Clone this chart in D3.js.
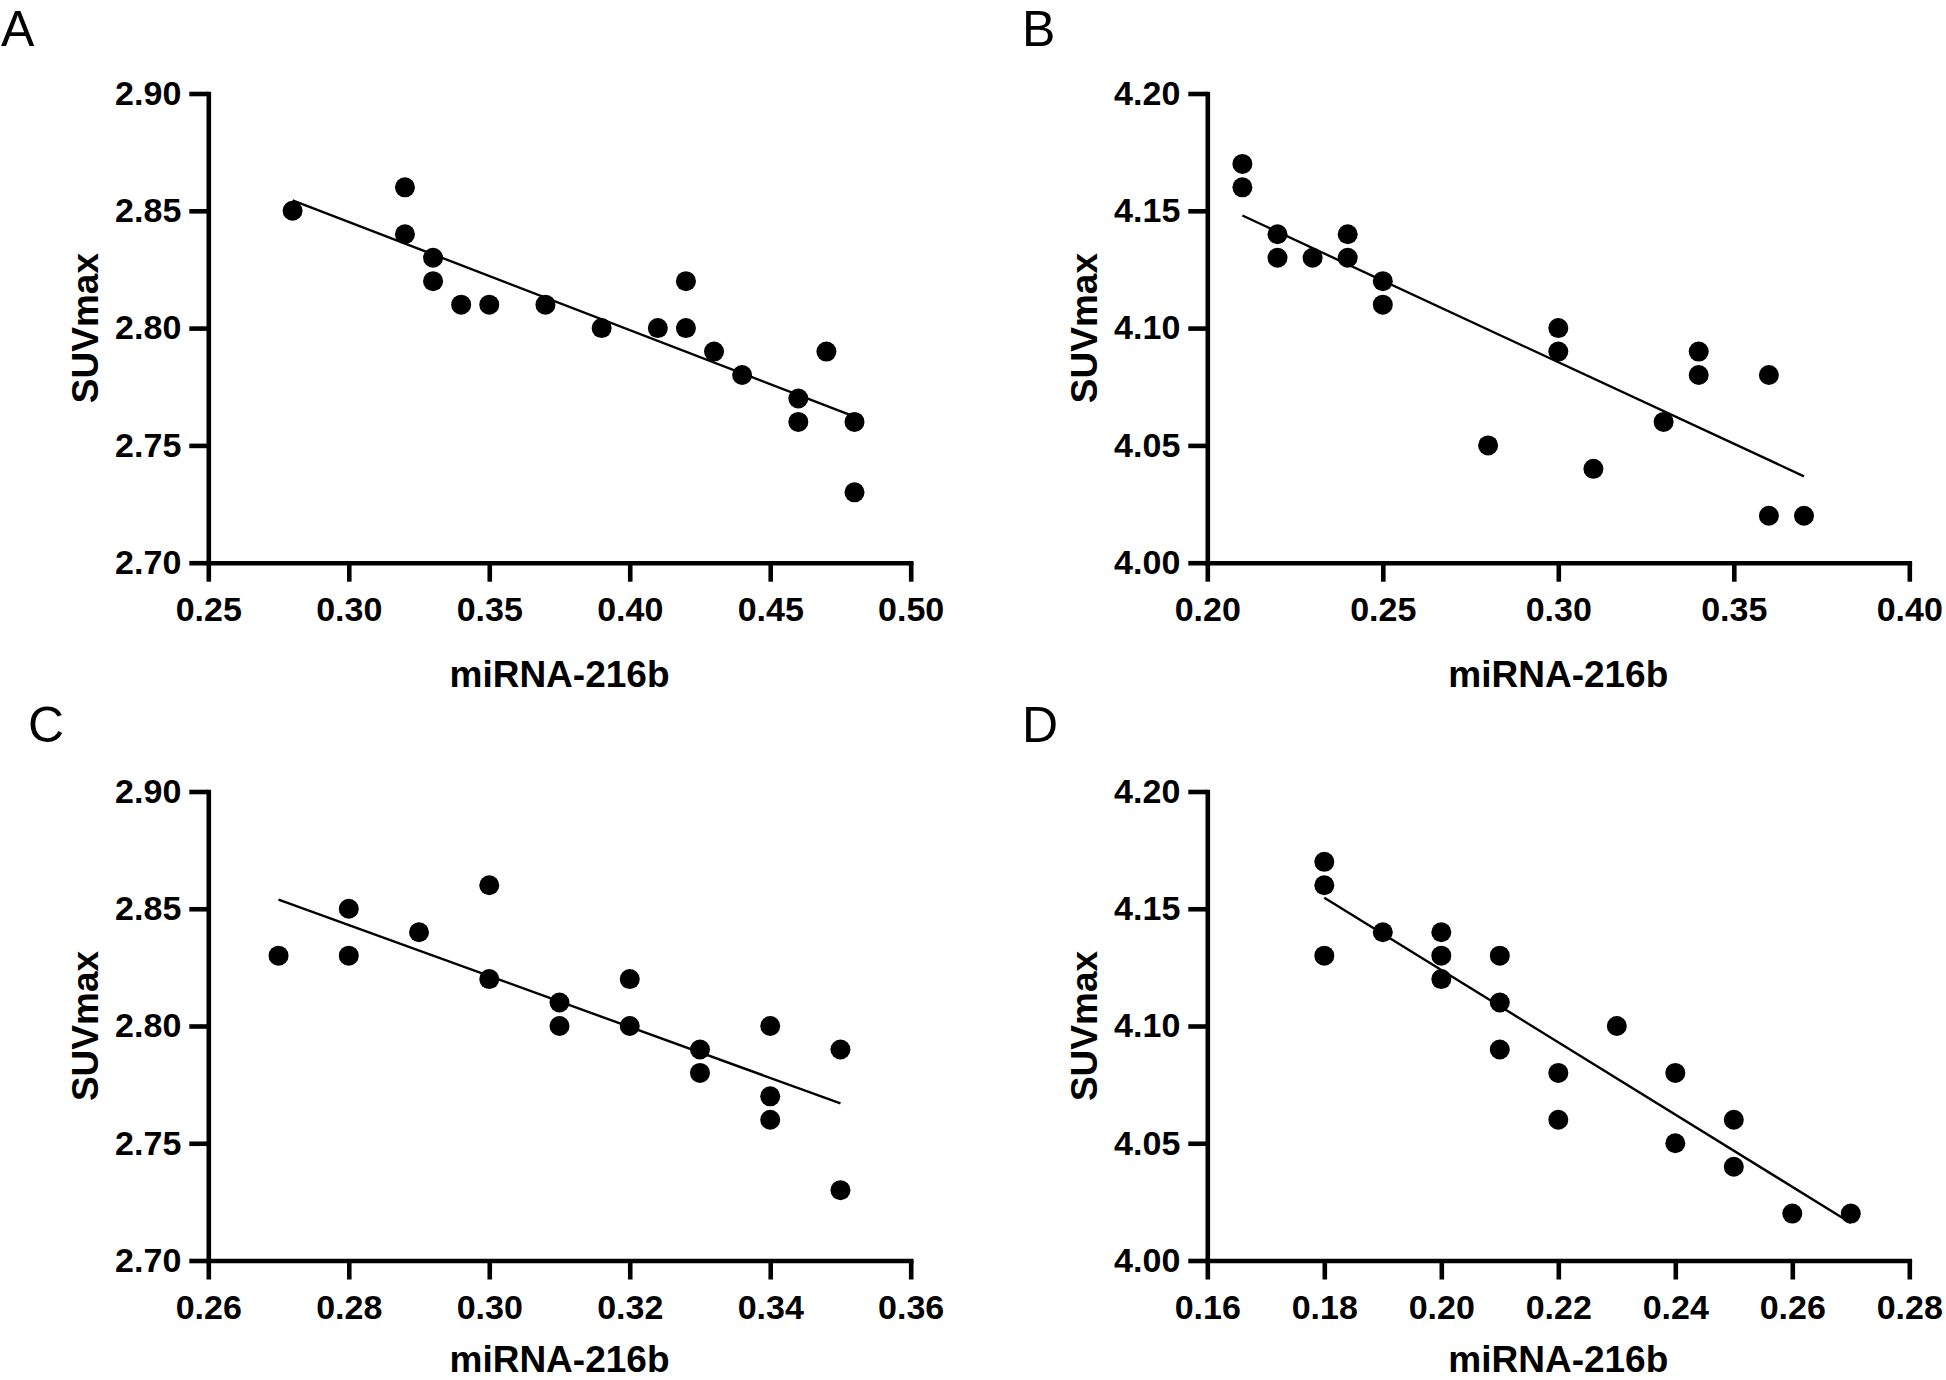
<!DOCTYPE html>
<html><head><meta charset="utf-8">
<script src="https://cdn.jsdelivr.net/npm/d3@7"></script>
<style>html,body{margin:0;padding:0;background:#fff;} svg{display:block;}</style>
</head><body>
<script>
// ---------- data ----------
const panelLabels = ["A", "B", "C", "D"];
const xTitle = "miRNA-216b";
const yTitle = "SUVmax";

const aX = [0.28, 0.32, 0.32, 0.33, 0.33, 0.34, 0.35, 0.37, 0.39, 0.41, 0.42, 0.42, 0.43, 0.44, 0.46, 0.46, 0.47, 0.48, 0.48];
const aY = [2.85, 2.86, 2.84, 2.83, 2.82, 2.81, 2.81, 2.81, 2.80, 2.80, 2.82, 2.80, 2.79, 2.78, 2.77, 2.76, 2.79, 2.76, 2.73];

const bX = [0.21, 0.21, 0.22, 0.22, 0.23, 0.24, 0.24, 0.25, 0.25, 0.28, 0.30, 0.30, 0.31, 0.33, 0.34, 0.34, 0.36, 0.36, 0.37];
const bY = [4.17, 4.16, 4.14, 4.13, 4.13, 4.14, 4.13, 4.12, 4.11, 4.05, 4.10, 4.09, 4.04, 4.06, 4.09, 4.08, 4.08, 4.02, 4.02];

const cX = [0.27, 0.28, 0.28, 0.29, 0.30, 0.30, 0.31, 0.31, 0.32, 0.32, 0.33, 0.33, 0.34, 0.34, 0.34, 0.35, 0.35];
const cY = [2.83, 2.85, 2.83, 2.84, 2.86, 2.82, 2.81, 2.80, 2.82, 2.80, 2.79, 2.78, 2.80, 2.77, 2.76, 2.79, 2.73];

const dX = [0.18, 0.18, 0.18, 0.19, 0.20, 0.20, 0.20, 0.21, 0.21, 0.21, 0.22, 0.22, 0.23, 0.24, 0.24, 0.25, 0.25, 0.26, 0.27];
const dY = [4.17, 4.16, 4.13, 4.14, 4.14, 4.13, 4.12, 4.13, 4.11, 4.09, 4.08, 4.06, 4.10, 4.08, 4.05, 4.06, 4.04, 4.02, 4.02];

const xTicksA = [0.25, 0.30, 0.35, 0.40, 0.45, 0.50];
const xTicksB = [0.20, 0.25, 0.30, 0.35, 0.40];
const xTicksC = [0.26, 0.28, 0.30, 0.32, 0.34, 0.36];
const xTicksD = [0.16, 0.18, 0.20, 0.22, 0.24, 0.26, 0.28];
const yTicksAC = [2.70, 2.75, 2.80, 2.85, 2.90];
const yTicksBD = [4.00, 4.05, 4.10, 4.15, 4.20];

// ---------- layout ----------
const W = 1946, H = 1380;
const layout = [
  {left: 208.3, right: 910.7, top: 93.5, bottom: 562.7, titleY: 687, yTitleX: 98, lx: 1, ly: 46},
  {left: 1207.3, right: 1909.3, top: 93.5, bottom: 562.7, titleY: 687, yTitleX: 1097, lx: 1022, ly: 46},
  {left: 208.3, right: 910.7, top: 791.5, bottom: 1260.5, titleY: 1372, yTitleX: 98, lx: 28, ly: 742},
  {left: 1207.3, right: 1909.3, top: 791.5, bottom: 1260.5, titleY: 1372, yTitleX: 1097, lx: 1022, ly: 742}
];

const panels = [
  {xs: aX, ys: aY, xTicks: xTicksA, yTicks: yTicksAC},
  {xs: bX, ys: bY, xTicks: xTicksB, yTicks: yTicksBD},
  {xs: cX, ys: cY, xTicks: xTicksC, yTicks: yTicksAC},
  {xs: dX, ys: dY, xTicks: xTicksD, yTicks: yTicksBD}
];

const FONT = "'Liberation Sans', Arial, Helvetica, sans-serif";

const svg = d3.select("body").append("svg")
  .attr("width", W).attr("height", H)
  .attr("viewBox", `0 0 ${W} ${H}`);
svg.append("rect").attr("width", W).attr("height", H).attr("fill", "#fff");

function linreg(xs, ys) {
  const mx = d3.mean(xs), my = d3.mean(ys);
  let sxy = 0, sxx = 0;
  xs.forEach((x, i) => { sxy += (x - mx) * (ys[i] - my); sxx += (x - mx) * (x - mx); });
  const b = sxy / sxx;
  return {b, a: my - b * mx};
}

panels.forEach((p, i) => {
  const L = layout[i];
  const x = d3.scaleLinear().domain(d3.extent(p.xTicks)).range([L.left, L.right]);
  const y = d3.scaleLinear().domain(d3.extent(p.yTicks)).range([L.bottom, L.top]);
  const g = svg.append("g");

  // regression line
  const r = linreg(p.xs, p.ys);
  const [x0, x1] = d3.extent(p.xs);
  g.append("line")
    .attr("x1", x(x0)).attr("y1", y(r.a + r.b * x0))
    .attr("x2", x(x1)).attr("y2", y(r.a + r.b * x1))
    .attr("stroke", "#000").attr("stroke-width", 2.4);

  // points
  g.selectAll("circle.pt").data(p.xs.map((v, k) => [v, p.ys[k]]))
    .join("circle").attr("class", "pt")
    .attr("cx", d => x(d[0])).attr("cy", d => y(d[1]))
    .attr("r", 10).attr("fill", "#000");

  // axes
  const xAxis = d3.axisBottom(x).tickValues(p.xTicks).tickFormat(d3.format(".2f"))
    .tickSizeInner(19).tickSizeOuter(0).tickPadding(15);
  const yAxis = d3.axisLeft(y).tickValues(p.yTicks).tickFormat(d3.format(".2f"))
    .tickSizeInner(19).tickSizeOuter(0).tickPadding(8);

  const gx = g.append("g").attr("transform", `translate(0,${L.bottom})`).call(xAxis);
  const gy = g.append("g").attr("transform", `translate(${L.left},0)`).call(yAxis);
  [gx, gy].forEach(ax => {
    ax.select(".domain").attr("stroke-width", 4.6).attr("stroke-linecap", "square");
    ax.selectAll(".tick line").attr("stroke-width", 4.6);
    ax.selectAll("text").attr("font-family", FONT).attr("font-weight", "bold")
      .attr("font-size", 34).attr("fill", "#000");
  });

  // axis titles
  g.append("text").text(xTitle)
    .attr("x", (L.left + L.right) / 2).attr("y", L.titleY)
    .attr("text-anchor", "middle")
    .attr("font-family", FONT).attr("font-weight", "bold").attr("font-size", 37);
  g.append("text").text(yTitle)
    .attr("transform", `translate(${L.yTitleX},${(L.top + L.bottom) / 2}) rotate(-90)`)
    .attr("text-anchor", "middle")
    .attr("font-family", FONT).attr("font-weight", "bold").attr("font-size", 37);

  // panel letter
  g.append("text").text(panelLabels[i])
    .attr("x", L.lx).attr("y", L.ly)
    .attr("font-family", FONT).attr("font-weight", 400)
    .attr("font-size", 50).attr("fill", "#000");
});
</script>
</body></html>
